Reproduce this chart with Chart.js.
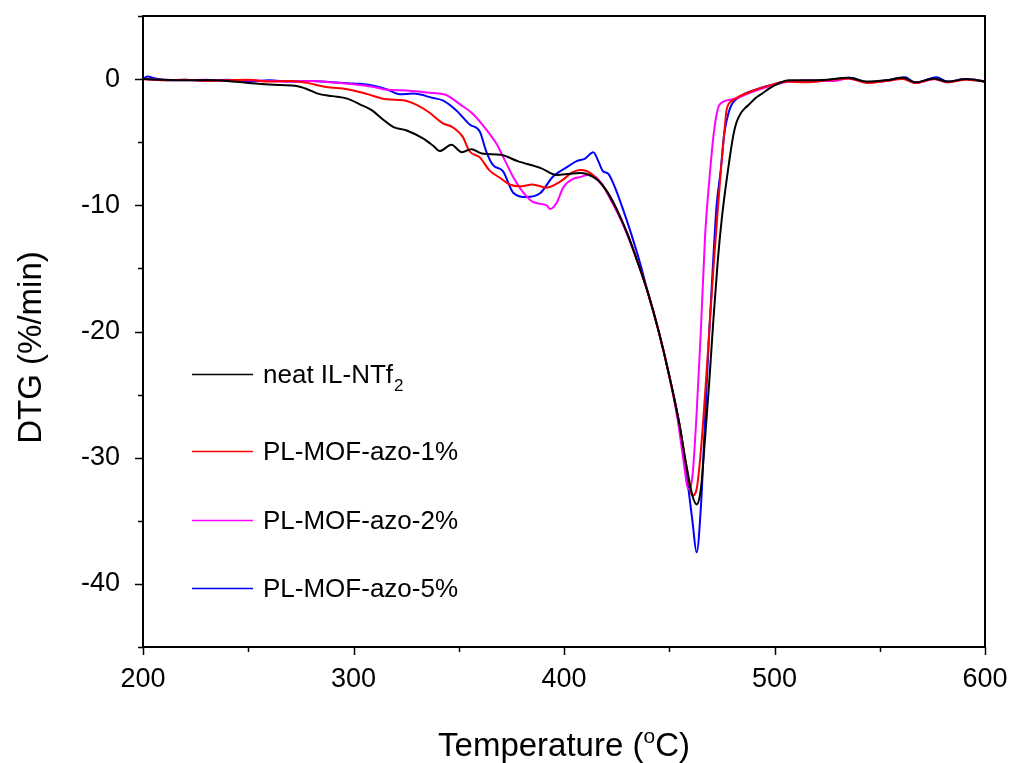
<!DOCTYPE html>
<html>
<head>
<meta charset="utf-8">
<script src="https://cdn.jsdelivr.net/npm/chart.js@4.4.1/dist/chart.umd.min.js"></script>
<style>
  html, body { margin: 0; padding: 0; background: #fff; }
  #wrap { width: 1010px; height: 763px; }
</style>
</head>
<body>
<div id="wrap"><canvas id="myChart" width="1010" height="763"></canvas></div>
<script>
// neat IL-NTf2
const tempNeat = [200, 210, 220, 230, 240, 250, 258, 265, 273, 278, 283, 290, 297, 303, 309, 314, 319, 325, 333, 338, 341, 346.5, 351.5, 356, 361, 370, 378, 389, 396.5, 403, 408, 412, 416, 420, 425, 430, 435, 440, 445, 450, 455, 458, 461, 463, 465, 467, 469, 471, 473, 475, 477, 478.5, 480.5, 482, 484, 486, 488, 491, 494.5, 498, 501, 507, 515, 525, 535, 544, 553, 561, 567, 576, 582, 591, 600];
const dtgNeat = [0, -0.05, -0.1, -0.08, -0.15, -0.3, -0.4, -0.47, -0.55, -0.8, -1.15, -1.35, -1.55, -2.0, -2.5, -3.2, -3.8, -4.05, -4.7, -5.3, -5.7, -5.2, -5.8, -5.55, -5.9, -6.0, -6.5, -7.05, -7.6, -7.5, -7.45, -7.6, -8.0, -8.8, -10.3, -12.2, -14.5, -17.0, -20.0, -23.5, -27.5, -30.5, -33.0, -33.7, -32.5, -28.5, -24, -19, -14.5, -11, -8.3, -6.5, -4.4, -3.4, -2.7, -2.3, -2.0, -1.5, -1.1, -0.7, -0.42, -0.1, -0.1, -0.05, 0.1, -0.2, -0.1, 0.1, -0.25, 0.05, -0.2, 0, -0.2];

// PL-MOF-azo-1%
const temp1 = [200, 210, 220, 230, 240, 250, 260, 270, 278, 287, 297, 306, 315.7, 323.6, 330, 336, 342.5, 347, 352, 355, 360, 364.7, 369.4, 374.2, 379, 385, 391.6, 398, 404, 407.6, 411, 415, 420, 425, 430, 435, 440, 445, 450, 455, 458, 461, 463, 465, 467, 469, 471, 473, 474.5, 476, 477.3, 480, 483.6, 490, 499.5, 506, 515, 525, 535, 544, 553, 561, 567, 576, 582, 591, 600];
const dtg1 = [0, -0.1, -0.05, -0.15, -0.1, -0.05, -0.2, -0.15, -0.3, -0.63, -0.8, -1.16, -1.6, -1.68, -2.05, -2.65, -3.5, -3.8, -4.6, -5.7, -6.2, -7.25, -7.8, -8.35, -8.5, -8.35, -8.6, -8.15, -7.4, -7.2, -7.3, -7.8, -8.8, -10.3, -12.2, -14.5, -17, -20, -23.5, -27.5, -30.5, -33, -32.5, -29.5, -25, -20, -15, -10.5, -7.3, -4.5, -2.4, -1.7, -1.34, -0.9, -0.42, -0.2, -0.25, -0.1, 0.05, -0.3, -0.15, 0, -0.3, 0, -0.25, -0.05, -0.2];

// PL-MOF-azo-2%
const temp2 = [200, 210, 220, 230, 240, 250, 260, 270, 280, 290, 300, 309, 316, 325, 335, 344, 350.6, 357, 363.3, 368, 371.2, 376, 380.7, 385.4, 391.7, 393.5, 396.5, 399.6, 404.4, 408, 411, 414, 418, 422, 426, 430, 435, 440, 445, 450, 454, 457, 459, 461, 463, 465, 467, 469.4, 471, 472.5, 474, 480.4, 488.4, 496.3, 505.8, 512, 520, 528, 535, 544, 553, 561, 567, 576, 582, 591, 600];
const dtg2 = [0, -0.05, -0.1, -0.05, -0.15, -0.1, -0.15, -0.2, -0.15, -0.25, -0.4, -0.6, -0.85, -0.9, -1.07, -1.26, -2.0, -2.8, -4.05, -5.15, -6.2, -7.8, -9.0, -9.75, -10.0, -10.3, -9.8, -8.6, -7.9, -7.75, -7.6, -7.65, -8.3, -9.5, -10.8, -12.3, -14.5, -17, -20, -23.5, -27, -30.5, -32.5, -31.5, -26.5, -20, -12.5, -7.3, -4.5, -2.8, -2.0, -1.6, -1.08, -0.63, -0.24, -0.13, -0.1, -0.15, 0.05, -0.25, -0.15, 0.05, -0.3, 0, -0.25, 0, -0.2];

// PL-MOF-azo-5%
const temp5 = [200, 202, 206, 212, 220, 230, 240, 250, 260, 270, 280, 290, 300, 309, 315.7, 322, 328.4, 337.9, 342.6, 349, 355.2, 360, 363, 366.2, 371, 375.9, 382.2, 388.6, 394.9, 401.2, 406, 410, 413.9, 416.3, 418.5, 421, 424, 428, 432, 436, 440, 445, 450, 455, 458, 461, 463, 465, 467, 469, 471, 472.5, 474.4, 476, 478.9, 483.6, 490, 499.5, 506, 515, 525, 536, 544, 553, 562, 567, 577, 582, 591, 600];
const dtg5 = [0, 0.2, 0.05, -0.1, -0.05, -0.15, -0.05, -0.2, -0.1, -0.2, -0.15, -0.25, -0.35, -0.5, -0.8, -1.2, -1.15, -1.5, -1.7, -2.5, -3.6, -4.15, -5.7, -6.8, -7.3, -9.0, -9.35, -9.05, -7.7, -7.0, -6.5, -6.3, -5.8, -6.5, -7.3, -7.5, -8.5, -10.3, -12.3, -14.5, -17, -20, -23.5, -27.5, -31, -35, -37.5, -34, -27, -20, -14, -10, -7.3, -4.5, -2.3, -1.4, -0.9, -0.42, -0.2, -0.2, -0.1, 0.1, -0.25, -0.1, 0.15, -0.3, 0.15, -0.2, 0, -0.2];

const seriesNames = ['neat IL-NTf', 'PL-MOF-azo-1%', 'PL-MOF-azo-2%', 'PL-MOF-azo-5%'];
const seriesColors = ['#000000', '#ff0000', '#ff00ff', '#0000ff'];
const xTicks = [200, 300, 400, 500, 600];
const yTicks = [0, -10, -20, -30, -40];

const FONT = '"Liberation Sans", Arial, sans-serif';

function toPoints(xs, ys) {
  return xs.map((x, i) => ({ x, y: ys[i] }));
}

const allSeries = [
  toPoints(tempNeat, dtgNeat),
  toPoints(temp1, dtg1),
  toPoints(temp2, dtg2),
  toPoints(temp5, dtg5)
];

const datasets = allSeries.map((pts, i) => ({
  label: seriesNames[i],
  data: pts,
  borderColor: seriesColors[i],
  borderWidth: 2,
  pointRadius: 0,
  fill: false,
  cubicInterpolationMode: 'monotone'
}));

// frame, outward ticks, titles and the hand placed legend
const decorations = {
  id: 'decorations',
  afterDraw(chart) {
    const { ctx, chartArea: a } = chart;
    const xs = chart.scales.x;
    const ys = chart.scales.y;
    ctx.save();
    ctx.strokeStyle = '#000';
    ctx.lineWidth = 2;
    ctx.strokeRect(a.left, a.top, a.right - a.left, a.bottom - a.top);

    ctx.lineWidth = 1.5;
    ctx.beginPath();
    for (let v = 200; v <= 600; v += 50) {
      const px = Math.round(xs.getPixelForValue(v)) + 0.5;
      const len = v % 100 === 0 ? 8 : 5;
      ctx.moveTo(px, a.bottom);
      ctx.lineTo(px, a.bottom + len);
    }
    for (let v = -45; v <= 5; v += 5) {
      const py = Math.round(ys.getPixelForValue(v)) + 0.5;
      const len = v % 10 === 0 ? 8 : 5;
      ctx.moveTo(a.left, py);
      ctx.lineTo(a.left - len, py);
    }
    ctx.stroke();

    // x title with superscript o
    ctx.fillStyle = '#000';
    ctx.textBaseline = 'alphabetic';
    ctx.textAlign = 'left';
    const big = '33px ' + FONT;
    const small = '21px ' + FONT;
    ctx.font = big;
    const p1 = 'Temperature (';
    const p3 = 'C)';
    const w1 = ctx.measureText(p1).width;
    const w3 = ctx.measureText(p3).width;
    ctx.font = small;
    const w2 = ctx.measureText('o').width;
    const total = w1 + w2 + w3;
    const tx = (a.left + a.right) / 2 - total / 2;
    const by = 756;
    ctx.font = big;
    ctx.fillText(p1, tx, by);
    ctx.font = small;
    ctx.fillText('o', tx + w1, by - 13);
    ctx.font = big;
    ctx.fillText(p3, tx + w1 + w2, by);

    // y title
    ctx.save();
    ctx.translate(41, (a.top + a.bottom) / 2 + 16);
    ctx.rotate(-Math.PI / 2);
    ctx.textAlign = 'center';
    ctx.font = big;
    ctx.fillText('DTG (%/min)', 0, 0);
    ctx.restore();

    // legend
    const rows = [374, 451, 520, 588];
    ctx.textBaseline = 'middle';
    rows.forEach((y, i) => {
      ctx.strokeStyle = seriesColors[i];
      ctx.lineWidth = 1.6;
      ctx.beginPath();
      ctx.moveTo(192, y + 0.5);
      ctx.lineTo(253, y + 0.5);
      ctx.stroke();
      ctx.fillStyle = '#000';
      ctx.font = '26px ' + FONT;
      ctx.fillText(seriesNames[i], 263, y + 2);
      if (i === 0) {
        const w = ctx.measureText(seriesNames[i]).width;
        ctx.font = '17px ' + FONT;
        ctx.fillText('2', 263 + w + 1, y + 12);
      }
    });
    ctx.restore();
  }
};

function zeroPadding(scale) {
  scale.paddingLeft = 0;
  scale.paddingRight = 0;
  scale.paddingTop = 0;
  scale.paddingBottom = 0;
}

const ctx = document.getElementById('myChart').getContext('2d');
const chart = new Chart(ctx, {
  type: 'line',
  data: { datasets },
  options: {
    responsive: false,
    animation: false,
    layout: { padding: { top: 16, right: 25, left: 0, bottom: 0 } },
    plugins: { legend: { display: false }, tooltip: { enabled: false } },
    scales: {
      x: {
        type: 'linear',
        min: 200,
        max: 600,
        grid: { display: false },
        border: { display: false },
        afterFit(scale) { scale.height = 116; zeroPadding(scale); },
        afterBuildTicks(scale) { scale.ticks = xTicks.map(v => ({ value: v })); },
        ticks: {
          color: '#000',
          padding: 8,
          maxRotation: 0,
          font: { family: FONT, size: 27 }
        }
      },
      y: {
        type: 'linear',
        min: -45,
        max: 5,
        grid: { display: false },
        border: { display: false },
        afterFit(scale) { scale.width = 143; zeroPadding(scale); },
        afterBuildTicks(scale) { scale.ticks = yTicks.map(v => ({ value: v })); },
        ticks: {
          color: '#000',
          padding: 15,
          font: { family: FONT, size: 27 }
        }
      }
    }
  },
  plugins: [decorations]
});
</script>
</body>
</html>
